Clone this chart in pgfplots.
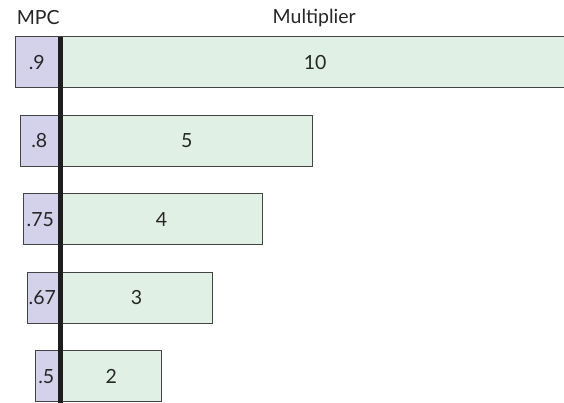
\documentclass[border=0pt]{standalone}
\usepackage{pgfplots}
\pgfplotsset{compat=1.18}
\usepackage{fontspec}
\setmainfont{Lato}
\definecolor{mpcfill}{HTML}{D4D2EA}
\definecolor{mulfill}{HTML}{E0F0E4}
\definecolor{edge}{HTML}{444444}
\definecolor{spine}{HTML}{1E1E1E}
\newcommand{\lblfont}{\fontsize{19.5}{22}\selectfont}
\begin{document}
\begin{tikzpicture}
\begin{axis}[
  at={(0,0)}, anchor=south west,
  scale only axis, width=564pt, height=403pt,
  xmin=-1.21, xmax=9.99, ymin=0.6624, ymax=5.796,
  hide axis, clip=true,
]
% MPC bars (drawn to the left of zero)
\addplot[xbar, bar width=51pt, bar shift=0pt, fill=mpcfill, draw=edge, line width=1pt]
  coordinates {(-0.9,5) (-0.8,4) (-0.75,3) (-0.67,2) (-0.5,1)};
% Multiplier bars
\addplot[xbar, bar width=51pt, bar shift=0pt, fill=mulfill, draw=edge, line width=1pt]
  coordinates {(10,5) (5,4) (4,3) (3,2) (2,1)};
% thick spine
\addplot[spine, line width=5pt, mark=none] coordinates {(0,0.6) (0,5.325)};
% labels
\addplot[draw=none, mark=none, nodes near coords, point meta=explicit symbolic,
  nodes near coords align=center,
  every node near coord/.append style={anchor=center, text=black!85, font=\lblfont}]
  table[meta=lab] {
x y lab
5.05 5 10
2.5 4 5
2 3 4
1.5 2 3
1 1 2
-0.48 5 .9
-0.43 4 .8
-0.41 3 .75
-0.37 2 .67
-0.29 1 .5
};
\node[anchor=base, text=black!85, font=\lblfont] at (axis cs:-0.45,5.49) {MPC};
\node[anchor=base, text=black!85, font=\lblfont] at (axis cs:5.03,5.50) {Multiplier};
\end{axis}
\pgfresetboundingbox
\useasboundingbox (0,0) rectangle (564pt,403pt);
\end{tikzpicture}
\end{document}
